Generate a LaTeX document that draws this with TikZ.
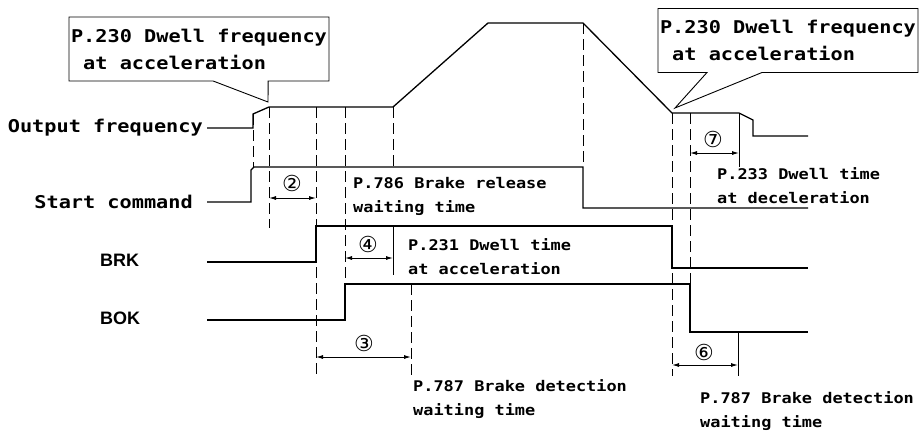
\documentclass[tikz,border=0pt]{standalone}
\usepackage{fontspec}
\usepackage{tikz}
\usetikzlibrary{arrows.meta, positioning, calc, shapes.callouts}
\newfontfamily\monofont[FakeStretch=1.15]{DejaVu Sans Mono}
\newfontfamily\sigfont{Liberation Sans}
\newfontfamily\numfont{DejaVu Sans}

\begin{document}
\begin{tikzpicture}[
    x=1pt, y=-1pt,
    sig/.style={line width=1.3pt, line join=miter},
    guide/.style={line width=1pt, dash pattern=on 11pt off 5pt},
    tick/.style={line width=1pt},
    dim/.style={{Latex[length=7pt,width=4pt]}-{Latex[length=7pt,width=4pt]}, line width=0.9pt},
    rowlabel/.style={font=\monofont\bfseries\fontsize{17.6}{22}\selectfont, anchor=east, inner sep=0pt},
    sigshort/.style={font=\sigfont\bfseries\fontsize{18}{22}\selectfont, anchor=west, inner sep=0pt},
    note/.style={font=\monofont\bfseries\fontsize{14.7}{24}\selectfont, align=left, anchor=west, inner sep=0pt},
    callbox/.style={rectangle callout, draw, line width=0.9pt, font=\monofont\bfseries\fontsize{17.6}{27}\selectfont, align=left, minimum width=260pt, minimum height=64pt, inner xsep=2pt, callout pointer width=55pt},
    num/.style={font=\numfont\fontsize{22}{22}\selectfont, inner sep=0pt}
]
\useasboundingbox (0,0) rectangle (919,432);

\node[rowlabel] (outlbl) at (203,128) {Output frequency};
\node[rowlabel] (startlbl) at (193,202) {Start command};
\node[sigshort] (brklbl) at (100,260) {BRK};
\node[sigshort] (boklbl) at (100,318) {BOK};

\draw[sig] (207,128) -- (253,128) -- (253,114) -- (269,107) -- (393,107) -- (488,23) -- (583,23) -- (672,113) -- (739,113) -- (753,120) -- (753,136) -- (808,136);
\draw[sig] (207,202) -- (251,202) -- (251,170) -- (254,167) -- (583,167) -- (583,208) -- (808,208);
\draw[sig] (207,262) -- (316,262) -- (316,226) -- (672,226) -- (672,268) -- (808,268);
\draw[sig] (207,320) -- (345,320) -- (345,284) -- (690,284) -- (690,332) -- (808,332);

\draw[guide] (253,114) -- (253,167);
\draw[guide] (269,107) -- (269,228);
\draw[guide] (316,107) -- (316,376);
\draw[guide] (345,107) -- (345,284);
\draw[guide] (393,107) -- (393,167);
\draw[guide] (411,284) -- (411,376);
\draw[guide] (583,23) -- (583,167);
\draw[guide] (672,113) -- (672,376);
\draw[guide] (690,113) -- (690,284);
\draw[tick] (393,226) -- (393,275);
\draw[tick] (739,113) -- (739,167);
\draw[tick] (738,332) -- (738,376);

\draw[dim] (269,198) -- (316,198);
\draw[dim] (345,258) -- (393,258);
\draw[dim] (316,357) -- (411,357);
\draw[dim] (690,153) -- (739,153);
\draw[dim] (672,365) -- (738,365);
\node[num] (n2) at (292,183) {②};
\node[num] (n4) at (368,244) {④};
\node[num] (n3) at (364,343) {③};
\node[num] (n7) at (713,139) {⑦};
\node[num] (n6) at (704,352) {⑥};

\node[note] (relwait) at (353,196) {P.786 Brake release\\waiting time};
\node[note] (dwellacc) at (408,257) {P.231 Dwell time\\at acceleration};
\node[note] (detwait) at (413,399) {P.787 Brake detection\\waiting time};
\node[note] (dwelldec) at (717,186) {P.233 Dwell time\\at deceleration};
\node[note] (detwaitb) at (700,411) {P.787 Brake detection\\waiting time};

\node[callbox, callout absolute pointer={(268,102)}] (freqacc) at (199,49) {P.230 Dwell frequency\\~at acceleration};
\node[callbox, callout absolute pointer={(675,108)}] (freqdec) at (788,40.5) {P.230 Dwell frequency\\~at acceleration};
\end{tikzpicture}
\end{document}
